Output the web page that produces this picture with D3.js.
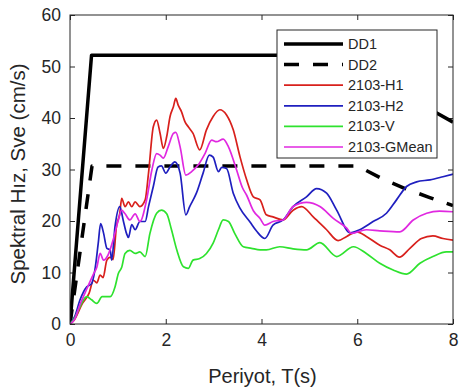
<!DOCTYPE html>
<html>
<head>
<meta charset="utf-8">
<script src="https://cdn.jsdelivr.net/npm/d3@7"></script>
<style>
  body { margin: 0; background: #fff; }
  svg { font-family: "Liberation Sans", Arial, sans-serif; }
</style>
</head>
<body>
<svg id="chart" width="461" height="391"></svg>
<script>
// ---- data: [period T (s), Sve (cm/s)] ----
let dd1 = [[0, 0], [0.45, 52.2], [6, 52.2], [6.5, 48.2], [7, 44.7], [7.5, 41.8], [8, 39.2]]
let dd2 = [[0, 0], [0.46, 30.7], [6, 30.7], [6.5, 28.3], [7, 26.3], [7.5, 24.6], [8, 23.0]]

let h1 = [[0,0],[0.09,0.8],[0.26,4.0],[0.4,6.0],[0.49,8.5],[0.56,8.0],[0.63,9.5],[0.69,9.0],[0.77,12.4],[0.84,13.0],
  [0.9,12.5],[0.97,18.9],[1.04,21.5],[1.08,24.4],[1.15,22.8],[1.22,23.7],[1.29,22.8],[1.36,23.7],[1.46,22.8],[1.57,24.1],
  [1.64,29.3],[1.74,38.3],[1.81,39.6],[1.88,37.1],[1.95,34.1],[2.02,36.4],[2.09,40.3],[2.16,42.2],[2.21,43.8],[2.26,42.5],
  [2.33,41.2],[2.4,39.3],[2.47,38.3],[2.57,37.0],[2.71,33.8],[2.85,37.7],[2.99,40.3],[3.13,41.6],[3.27,40.6],[3.41,37.7],
  [3.55,32.5],[3.69,28.0],[3.83,24.7],[3.97,24.1],[4.1,21.2],[4.24,20.8],[4.45,20.2],[4.66,22.1],[4.84,22.8],[5.08,20.8],
  [5.36,18.3],[5.6,16.2],[5.78,17.0],[5.99,17.9],[6.19,17.0],[6.47,15.3],[6.68,14.4],[6.88,13.0],[7.1,14.7],[7.34,16.6],
  [7.58,17.1],[7.79,16.6],[8.0,16.3]]

let h2 = [[0,0],[0.1,1.5],[0.21,4.7],[0.35,7.2],[0.45,7.8],[0.52,10.5],[0.59,15.7],[0.64,19.5],[0.7,17.7],[0.77,14.7],
  [0.84,14.4],[0.87,12.4],[0.94,18.9],[1.04,22.8],[1.11,20.2],[1.18,17.6],[1.22,16.8],[1.29,19.3],[1.36,18.3],[1.46,19.9],
  [1.57,19.9],[1.64,22.8],[1.74,26.7],[1.84,30.5],[1.91,30.7],[2.0,29.3],[2.09,30.5],[2.19,31.5],[2.3,29.3],[2.42,21.2],
  [2.5,22.8],[2.64,25.4],[2.78,29.3],[2.91,32.8],[2.99,32.4],[3.1,29.6],[3.17,30.4],[3.27,30.2],[3.41,25.4],[3.55,22.5],
  [3.76,19.8],[3.9,18.0],[4.07,16.6],[4.24,19.2],[4.45,20.2],[4.66,22.8],[4.94,24.7],[5.15,26.3],[5.36,25.4],[5.57,22.1],
  [5.85,17.7],[6.05,18.3],[6.33,19.9],[6.61,21.5],[6.82,24.1],[7.03,26.7],[7.24,27.6],[7.52,28.0],[7.79,28.6],[8.0,29.1]]

let vert = [[0,0],[0.1,1.2],[0.21,3.4],[0.35,5.3],[0.45,4.7],[0.56,4.0],[0.67,5.3],[0.84,5.3],[0.94,7.2],[1.01,9.8],
  [1.08,11.0],[1.15,13.7],[1.25,14.3],[1.36,13.7],[1.46,14.0],[1.57,13.1],[1.67,17.6],[1.81,21.5],[1.91,22.1],[2.02,21.4],
  [2.12,18.3],[2.23,14.4],[2.37,11.1],[2.47,10.8],[2.57,12.4],[2.71,12.7],[2.85,13.7],[2.99,15.7],[3.1,18.3],[3.2,20.2],
  [3.31,19.9],[3.44,17.6],[3.62,15.0],[3.79,14.7],[3.97,14.4],[4.1,14.4],[4.38,15.0],[4.66,14.6],[4.94,14.4],[5.22,15.8],
  [5.57,13.1],[5.92,15.0],[6.19,13.7],[6.47,11.8],[6.75,10.5],[7.03,9.7],[7.31,11.8],[7.58,13.1],[7.86,14.0],[8.0,14.0]]

let gmean = [[0,0],[0.1,1.0],[0.21,3.8],[0.35,6.8],[0.49,9.7],[0.56,11.0],[0.63,13.7],[0.7,12.4],[0.79,13.3],[0.9,16.3],
  [1.01,20.2],[1.08,22.1],[1.15,21.4],[1.25,20.2],[1.36,21.4],[1.46,19.9],[1.6,24.1],[1.71,29.9],[1.81,33.1],[1.88,32.8],
  [1.95,32.2],[2.05,34.4],[2.16,37.0],[2.21,37.2],[2.3,34.4],[2.42,28.9],[2.54,29.6],[2.68,30.9],[2.82,33.1],[2.96,35.7],
  [3.06,35.4],[3.2,35.9],[3.31,34.4],[3.48,29.9],[3.6,26.5],[3.69,25.0],[3.83,22.0],[3.97,20.5],[4.07,19.2],[4.24,19.9],
  [4.45,20.2],[4.66,22.8],[4.94,23.6],[5.22,22.8],[5.5,20.5],[5.78,18.6],[5.88,17.6],[6.19,18.3],[6.47,18.1],[6.89,17.9],
  [7.17,20.2],[7.45,21.5],[7.72,21.9],[8.0,21.8]]

let seriesNames = ['DD1', 'DD2', '2103-H1', '2103-H2', '2103-V', '2103-GMean']
let seriesData = [dd1, dd2, h1, h2, vert, gmean]
let seriesColors = ['#000000', '#000000', '#d8201c', '#1f1fbf', '#2ee22e', '#e028e0']

let xTicks = [0, 2, 4, 6, 8]
let yTicks = [0, 10, 20, 30, 40, 50, 60]

/* -------------- layout -------------- */
let svg = d3.select('#chart')
let plotLeft = 70, plotRight = 453, plotTop = 15, plotBottom = 324
let ink = '#262626'

let x = d3.scaleLinear().domain([0, 8]).range([plotLeft, plotRight])
let y = d3.scaleLinear().domain([0, 60]).range([plotBottom, plotTop])

svg.append('clipPath').attr('id', 'plotclip')
  .append('rect')
  .attr('x', plotLeft).attr('y', plotTop)
  .attr('width', plotRight - plotLeft).attr('height', plotBottom - plotTop)

/* -------------- axes -------------- */
function tickLabels(g) {
  g.selectAll('text').attr('fill', ink).style('font-size', '17.5px')
  g.selectAll('line').attr('stroke', ink)
  g.select('.domain').remove()
}

svg.append('g')
  .attr('transform', 'translate(0,' + plotBottom + ')')
  .call(d3.axisBottom(x).tickValues(xTicks).tickSize(-5).tickPadding(10))
  .call(tickLabels)

svg.append('g')
  .attr('transform', 'translate(0,' + plotTop + ')')
  .call(d3.axisTop(x).tickValues(xTicks).tickSize(-5).tickFormat(''))
  .call(tickLabels)

svg.append('g')
  .attr('transform', 'translate(' + plotLeft + ',0)')
  .call(d3.axisLeft(y).tickValues(yTicks).tickSize(-5).tickPadding(9))
  .call(tickLabels)

svg.append('g')
  .attr('transform', 'translate(' + plotRight + ',0)')
  .call(d3.axisRight(y).tickValues(yTicks).tickSize(-5).tickFormat(''))
  .call(tickLabels)

/* -------------- lines -------------- */
let lineStraight = d3.line().x(d => x(d[0])).y(d => y(d[1]))
let lineSmooth = d3.line().x(d => x(d[0])).y(d => y(d[1])).curve(d3.curveMonotoneX)

let plot = svg.append('g').attr('clip-path', 'url(#plotclip)')

seriesData.forEach(function (data, i) {
  let isDesign = i < 2
  plot.append('path')
    .datum(data)
    .attr('fill', 'none')
    .attr('stroke', seriesColors[i])
    .attr('stroke-width', isDesign ? 3.5 : 1.7)
    .attr('stroke-dasharray', i === 1 ? '15,14' : null)
    .attr('stroke-linejoin', 'round')
    .attr('d', isDesign ? lineStraight(data) : lineSmooth(data))
})

/* box */
svg.append('rect')
  .attr('x', plotLeft).attr('y', plotTop)
  .attr('width', plotRight - plotLeft).attr('height', plotBottom - plotTop)
  .attr('fill', 'none').attr('stroke', ink).attr('stroke-width', 1)

/* -------------- axis titles -------------- */
svg.append('text')
  .attr('x', (plotLeft + plotRight) / 2 + 1).attr('y', 383)
  .attr('text-anchor', 'middle')
  .attr('fill', ink).style('font-size', '20px')
  .text('Periyot, T(s)')

svg.append('text')
  .attr('transform', 'translate(25,174) rotate(-90)')
  .attr('text-anchor', 'middle')
  .attr('fill', ink).style('font-size', '20.5px')
  .text('Spektral Hız, Sve (cm/s)')

/* -------------- legend -------------- */
let legend = svg.append('g').attr('transform', 'translate(277,30)')
legend.append('rect')
  .attr('width', 160).attr('height', 128)
  .attr('fill', '#fff').attr('stroke', ink).attr('stroke-width', 1)

seriesNames.forEach(function (name, i) {
  let ly = 14 + i * 20.6
  legend.append('line')
    .attr('x1', 7).attr('x2', 66)
    .attr('y1', ly).attr('y2', ly)
    .attr('stroke', seriesColors[i])
    .attr('stroke-width', i < 2 ? 3.5 : 1.7)
    .attr('stroke-dasharray', i === 1 ? '15,14' : null)
  legend.append('text')
    .attr('x', 71).attr('y', ly + 5)
    .attr('fill', ink).style('font-size', '14.5px')
    .text(name)
})
</script>
</body>
</html>
